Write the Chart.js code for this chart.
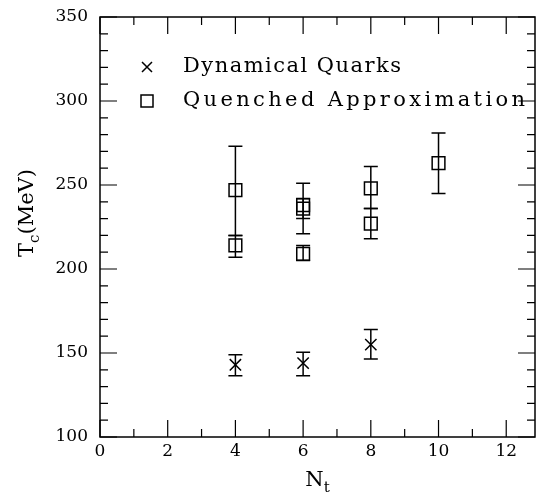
<!DOCTYPE html>
<html>
<head>
<meta charset="utf-8">
<script src="https://cdn.jsdelivr.net/npm/chart.js@4/dist/chart.umd.min.js"></script>
<style>
  html, body { margin: 0; padding: 0; background: #fff; }
  #wrap { width: 540px; height: 498px; }
</style>
</head>
<body>
<div id="wrap"><canvas id="tcChart" width="540" height="498"></canvas></div>
<script>
// dynamical quarks
const dynNt = [4, 6, 8];
const dynTc = [143, 144, 155];
const dynLo = [136.5, 136.5, 146.5];
const dynHi = [149, 150.5, 164];

// quenched approximation
const qNt = [4, 4, 6, 6, 6, 8, 8, 10];
const qTc = [247, 214, 238, 236, 209, 248, 227, 263];
const qLo = [220, 207, 221, 230, 205, 236, 218, 245];
const qHi = [273, 220, 251, 242, 214, 261, 236, 281];

const xTicks = [0, 2, 4, 6, 8, 10, 12];
const yTicks = [100, 150, 200, 250, 300, 350];

const serif = '"DejaVu Serif", "Liberation Serif", serif';

// vertical error bars from the lo/hi arrays
const errorBars = {
  id: 'errorBars',
  afterDatasetsDraw(chart) {
    const { ctx, scales: { x, y } } = chart;
    const sets = [[dynNt, dynLo, dynHi], [qNt, qLo, qHi]];
    ctx.save();
    ctx.strokeStyle = '#000';
    ctx.lineWidth = 1.5;
    sets.forEach(([xs, lo, hi]) => {
      xs.forEach((v, i) => {
        const px = x.getPixelForValue(v);
        const y1 = y.getPixelForValue(lo[i]);
        const y2 = y.getPixelForValue(hi[i]);
        ctx.beginPath();
        ctx.moveTo(px, y1); ctx.lineTo(px, y2);
        ctx.moveTo(px - 7, y1); ctx.lineTo(px + 7, y1);
        ctx.moveTo(px - 7, y2); ctx.lineTo(px + 7, y2);
        ctx.stroke();
      });
    });
    ctx.restore();
  }
};

// frame, inward ticks on all sides, axis titles, legend box
const frame = {
  id: 'frame',
  afterDraw(chart) {
    const { ctx, chartArea: a, scales: { x, y } } = chart;
    ctx.save();
    ctx.strokeStyle = '#000';
    ctx.lineWidth = 1.5;
    ctx.strokeRect(a.left, a.top, a.right - a.left, a.bottom - a.top);

    ctx.lineWidth = 1.2;
    ctx.beginPath();
    for (let v = 0; v <= 12; v++) {
      const px = x.getPixelForValue(v);
      const len = v % 2 === 0 ? 17 : 8;
      ctx.moveTo(px, a.bottom); ctx.lineTo(px, a.bottom - len);
      ctx.moveTo(px, a.top); ctx.lineTo(px, a.top + len);
    }
    for (let v = 100; v <= 350; v += 10) {
      const py = y.getPixelForValue(v);
      const len = v % 50 === 0 ? 17 : 8;
      ctx.moveTo(a.left, py); ctx.lineTo(a.left + len, py);
      ctx.moveTo(a.right, py); ctx.lineTo(a.right - len, py);
    }
    ctx.stroke();

    // axis titles with subscripts
    ctx.fillStyle = '#000';
    ctx.textBaseline = 'alphabetic';
    const big = '21px ' + serif;
    const small = '15px ' + serif;

    ctx.font = big;
    const wN = ctx.measureText('N').width;
    ctx.font = small;
    const wt = ctx.measureText('t').width;
    const cx = (a.left + a.right) / 2;
    let sx = cx - (wN + wt) / 2;
    ctx.font = big;
    ctx.fillText('N', sx, 486);
    ctx.font = small;
    ctx.fillText('t', sx + wN, 492);

    ctx.save();
    ctx.translate(33, 213);
    ctx.rotate(-Math.PI / 2);
    ctx.font = big;
    const wT = ctx.measureText('T').width;
    const wRest = ctx.measureText('(MeV)').width;
    ctx.font = small;
    const wc = ctx.measureText('c').width;
    let tx = -(wT + wc + wRest) / 2;
    ctx.font = big;
    ctx.fillText('T', tx, 0);
    ctx.font = small;
    ctx.fillText('c', tx + wT, 6);
    ctx.font = big;
    ctx.fillText('(MeV)', tx + wT + wc, 0);
    ctx.restore();

    // legend, each label stretched to the width it has in the original
    const labels = chart.data.datasets.map(d => d.label);
    const spans = [218, 342];
    const rows = [67, 101];
    ctx.font = '21px ' + serif;
    ctx.textBaseline = 'middle';
    labels.forEach((t, i) => {
      ctx.letterSpacing = '0px';
      const w = ctx.measureText(t).width;
      const gap = Math.max(0, (spans[i] - w) / (t.length - 1));
      ctx.letterSpacing = gap + 'px';
      ctx.fillText(t, 183, rows[i]);
    });
    ctx.letterSpacing = '0px';

    ctx.lineWidth = 1.5;
    ctx.beginPath();
    ctx.moveTo(142, rows[0] - 5); ctx.lineTo(152, rows[0] + 5);
    ctx.moveTo(152, rows[0] - 5); ctx.lineTo(142, rows[0] + 5);
    ctx.stroke();
    ctx.strokeRect(141, rows[1] - 6, 12, 12);
    ctx.restore();
  }
};

new Chart(document.getElementById('tcChart'), {
  type: 'scatter',
  data: {
    datasets: [
      {
        label: 'Dynamical Quarks',
        data: dynNt.map((v, i) => ({ x: v, y: dynTc[i] })),
        pointStyle: 'crossRot',
        radius: 8,
        borderColor: '#000',
        backgroundColor: 'transparent',
        borderWidth: 1.5
      },
      {
        label: 'Quenched Approximation',
        data: qNt.map((v, i) => ({ x: v, y: qTc[i] })),
        pointStyle: 'rect',
        radius: 9,
        borderColor: '#000',
        backgroundColor: 'transparent',
        borderWidth: 1.5
      }
    ]
  },
  options: {
    responsive: false,
    animation: false,
    events: [],
    layout: { autoPadding: false, padding: { top: 17, right: 5, left: 0, bottom: 0 } },
    plugins: {
      legend: { display: false },
      tooltip: { enabled: false }
    },
    scales: {
      x: {
        type: 'linear',
        min: 0,
        max: 12.85,
        afterBuildTicks: s => { s.ticks = xTicks.map(v => ({ value: v })); },
        afterFit: s => { s.height = 61; s.paddingLeft = 0; s.paddingRight = 0; },
        ticks: {
          color: '#000',
          font: { family: serif, size: 17 },
          padding: 4,
          maxRotation: 0
        },
        grid: { display: false, drawTicks: false },
        border: { display: false }
      },
      y: {
        type: 'linear',
        min: 100,
        max: 350,
        afterBuildTicks: s => { s.ticks = yTicks.map(v => ({ value: v })); },
        afterFit: s => { s.width = 100; s.paddingTop = 0; s.paddingBottom = 0; },
        ticks: {
          color: '#000',
          font: { family: serif, size: 17 },
          padding: 12
        },
        grid: { display: false, drawTicks: false },
        border: { display: false }
      }
    }
  },
  plugins: [errorBars, frame]
});
</script>
</body>
</html>
